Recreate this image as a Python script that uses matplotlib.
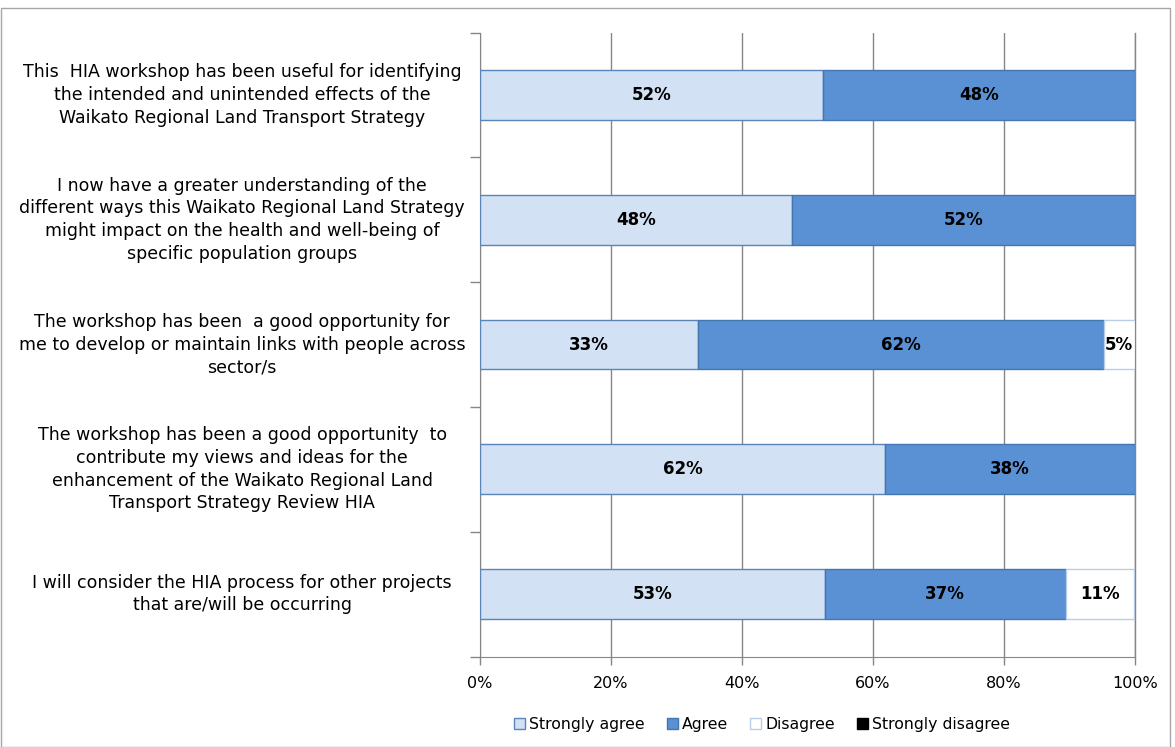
import matplotlib
matplotlib.use("Agg")
import matplotlib.pyplot as plt
from matplotlib.patches import Rectangle, Patch
import matplotlib.transforms as mtransforms

categories = [
    "This  HIA workshop has been useful for identifying\nthe intended and unintended effects of the\nWaikato Regional Land Transport Strategy",
    "I now have a greater understanding of the\ndifferent ways this Waikato Regional Land Strategy\nmight impact on the health and well-being of\nspecific population groups",
    "The workshop has been  a good opportunity for\nme to develop or maintain links with people across\nsector/s",
    "The workshop has been a good opportunity  to\ncontribute my views and ideas for the\nenhancement of the Waikato Regional Land\nTransport Strategy Review HIA",
    "I will consider the HIA process for other projects\nthat are/will be occurring",
]
series_names = ["Strongly agree", "Agree", "Disagree", "Strongly disagree"]
strongly_agree = [52.4, 47.6, 33.3, 61.9, 52.6]
agree = [47.6, 52.4, 61.9, 38.1, 36.8]
disagree = [0.0, 0.0, 4.8, 0.0, 10.5]
strongly_disagree = [0.0, 0.0, 0.0, 0.0, 0.0]
xticklabels = ["0%", "20%", "40%", "60%", "80%", "100%"]

fills = ["#D3E1F4", "#5A91D4", "#FFFFFF", "#000000"]
edges = ["#5B84B8", "#4476B2", "#B9CDE8", "#000000"]

fig = plt.figure(figsize=(11.75, 7.47), dpi=100)
ax = fig.add_axes([480/1175, 1 - 656.5/747, 655/1175, 624/747])

ys = list(range(len(categories)))
left = [0.0] * len(categories)
all_series = [strongly_agree, agree, disagree, strongly_disagree]
for vals, name, fc, ec in zip(all_series, series_names, fills, edges):
    idx = [i for i, v in enumerate(vals) if v > 0]
    if idx:
        ax.barh([ys[i] for i in idx], [vals[i] for i in idx], left=[left[i] for i in idx],
                height=0.4, color=fc, edgecolor=ec, linewidth=1.0, zorder=3)
    for i in idx:
        v = vals[i]
        ax.text(left[i] + v / 2, ys[i], f"{int(v + 0.5):d}%", ha="center", va="center",
                fontsize=12, fontweight="bold", color="black", zorder=4)
    left = [a + b for a, b in zip(left, vals)]

ax.set_xlim(0, 100)
ax.set_ylim(len(categories) - 0.5, -0.5)
ax.set_xticks([0, 20, 40, 60, 80, 100])
ax.set_xticklabels(xticklabels, fontsize=11.5)
ax.set_yticks([])
ax.set_yticks([i - 0.5 for i in range(len(categories) + 1)], minor=True)
ax.tick_params(axis="y", which="minor", length=7, color="#868686", width=1)
ax.tick_params(axis="x", length=6, color="#868686", width=1, pad=8)
ax.grid(axis="x", color="#868686", linewidth=1, zorder=0)
ax.axvline(100, color="#868686", linewidth=1, zorder=0, clip_on=False)
for s in ["top", "right"]:
    ax.spines[s].set_visible(False)
for s in ["left", "bottom"]:
    ax.spines[s].set_color("#868686")

trans = mtransforms.blended_transform_factory(ax.transAxes, ax.transData)
for y, lab in zip(ys, categories):
    ax.text(-0.363, y, lab, transform=trans, ha="center", va="center",
            multialignment="center", fontsize=12.5, linespacing=1.33)

handles = [Patch(facecolor=fc, edgecolor=ec, label=n) for n, fc, ec in zip(series_names, fills, edges)]
fig.legend(handles=handles, loc="center", bbox_to_anchor=(762/1175, 1 - 724/747), ncol=4,
           frameon=False, fontsize=11.3, handlelength=0.7, handleheight=0.7,
           handletextpad=0.25, columnspacing=1.4)

fig.patches.append(Rectangle((0.001, 0.0), 0.995, 0.989, transform=fig.transFigure,
                             fill=False, edgecolor="#A6A6A6", linewidth=1))

fig.savefig("out.png", dpi=100)
